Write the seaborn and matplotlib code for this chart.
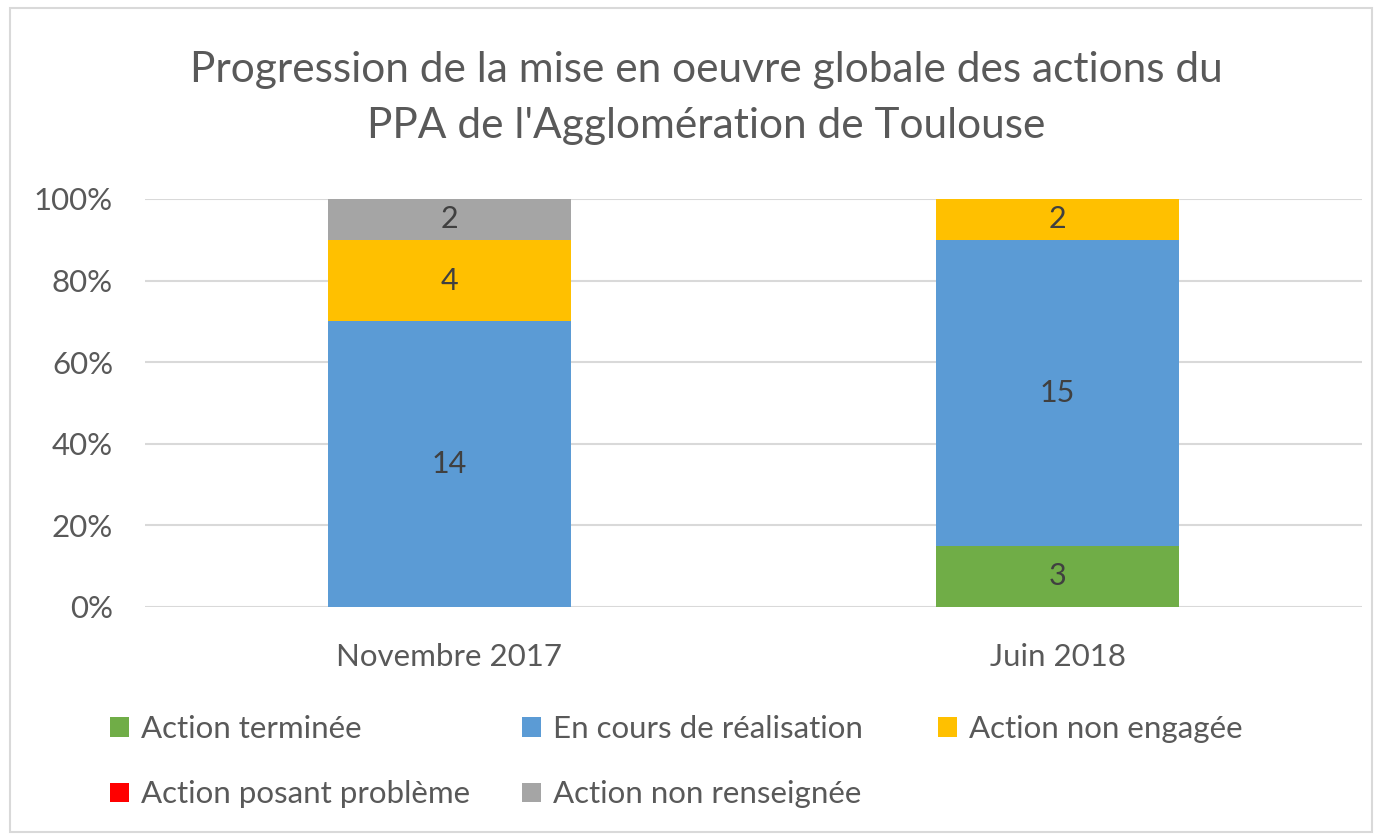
import matplotlib
matplotlib.use("Agg")
import matplotlib.pyplot as plt
import matplotlib.patches as mpatches
import seaborn as sns
import numpy as np

categories = ["Novembre 2017", "Juin 2018"]
series_names = ["Action terminée", "En cours de réalisation", "Action non engagée",
                "Action posant problème", "Action non renseignée"]
terminee = [0, 3]
en_cours = [14, 15]
non_engagee = [4, 2]
probleme = [0, 0]
non_renseignee = [2, 0]
colors = ["#70AD47", "#5B9BD5", "#FFC000", "#FF0000", "#A5A5A5"]
y_ticks = [0, 20, 40, 60, 80, 100]
title = "Progression de la mise en oeuvre globale des actions du\nPPA de l'Agglomération de Toulouse"

sns.set_theme(style="white")
plt.rcParams["font.family"] = ["Lato", "DejaVu Sans"]

series = [terminee, en_cours, non_engagee, probleme, non_renseignee]
counts = np.array(series, dtype=float)
totals = counts.sum(axis=0)
pct = counts / totals * 100

fig = plt.figure(figsize=(13.82, 8.4), dpi=100)
ax = fig.add_axes([145 / 1382, 1 - 607 / 840, (1362 - 145) / 1382, (607 - 199) / 840])

bottom = np.zeros(len(categories))
for name, vals, cnt, col in zip(series_names, pct, counts, colors):
    sns.barplot(x=categories, y=vals, bottom=bottom, color=col, width=0.4,
                label=name, ax=ax, order=categories, saturation=1, linewidth=0)
    for i, (v, c) in enumerate(zip(vals, cnt)):
        if c > 0:
            ax.text(i, bottom[i] + v / 2, f"{int(c)}", ha="center", va="center",
                    fontsize=22, color="#404040")
    bottom = bottom + vals

ax.set_xlim(-0.5, 1.5)
ax.set_ylim(0, 100)
ax.set_yticks(y_ticks)
ax.set_yticklabels([f"{t}%" for t in y_ticks])
ax.yaxis.grid(True, color="#D9D9D9", linewidth=1.5)
ax.set_axisbelow(True)
for s in ax.spines.values():
    s.set_visible(False)
ax.tick_params(axis="both", length=0, labelsize=22.5, colors="#595959")
ax.tick_params(axis="x", pad=26)
ax.tick_params(axis="y", pad=23)
ax.set_xlabel("")
ax.set_ylabel("")

fig.text(706 / 1382, 1 - 98 / 840, title, ha="center", va="center",
         fontsize=30.5, color="#595959", linespacing=1.55)

handles, labels = ax.get_legend_handles_labels()
if ax.get_legend():
    ax.get_legend().remove()
cols = [[0, 3], [1, 4], [2]]
xs = [110, 522, 938]
for idx, x in zip(cols, xs):
    fig.legend([handles[i] for i in idx], [labels[i] for i in idx],
               loc="upper left", bbox_to_anchor=(x / 1382, 1 - 715 / 840),
               frameon=False, fontsize=22.5, labelcolor="#595959",
               handlelength=0.6, handleheight=0.6, handletextpad=0.4,
               labelspacing=1.2, borderpad=0, borderaxespad=0)

fig.patches.append(mpatches.Rectangle((10 / 1382, 1 - 832 / 840), 1362 / 1382, 824 / 840,
                                      transform=fig.transFigure, fill=False,
                                      edgecolor="#D9D9D9", linewidth=1.5))

fig.savefig("out.png", dpi=100)
